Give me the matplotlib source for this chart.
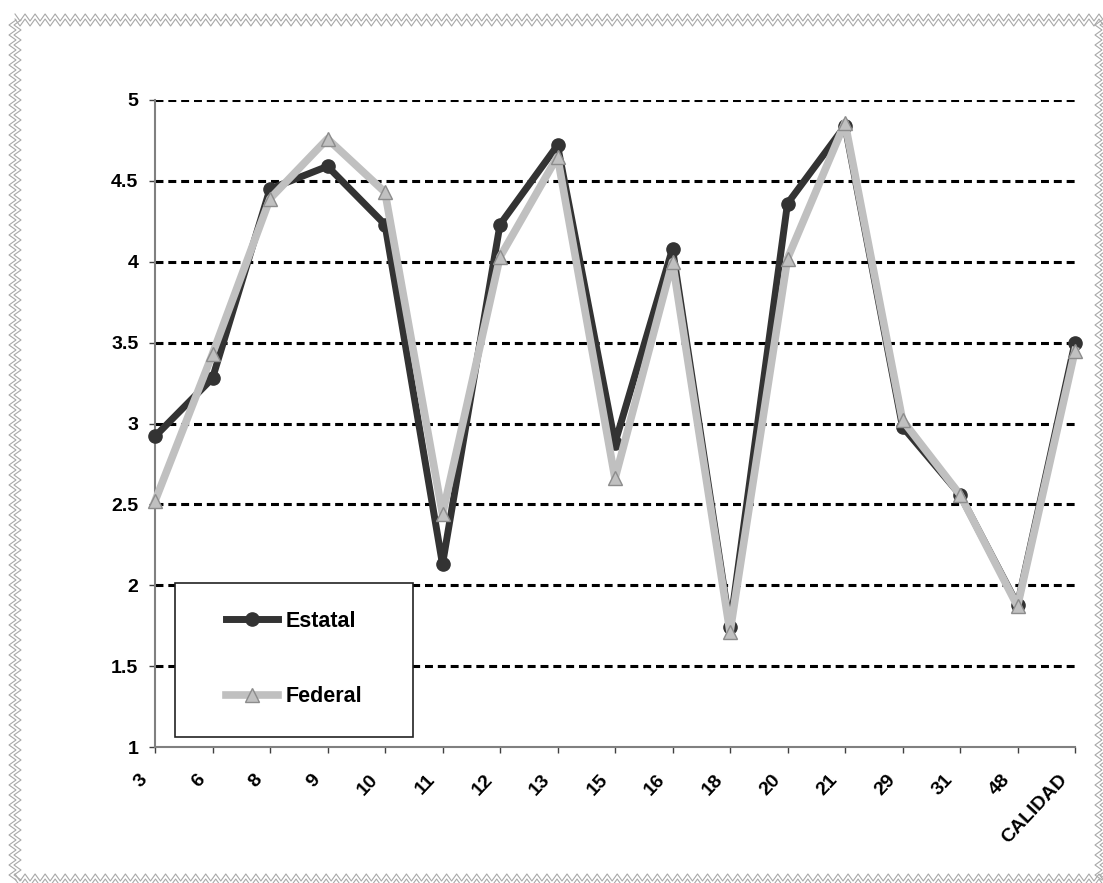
import numpy as np
import matplotlib
matplotlib.use("Agg")
import matplotlib.pyplot as plt
import matplotlib.transforms as mtransforms
from matplotlib.lines import Line2D
from matplotlib.patches import Rectangle

# ---- data ----
categories = ['3', '6', '8', '9', '10', '11', '12', '13', '15', '16', '18',
              '20', '21', '29', '31', '48', 'CALIDAD']
estatal = [2.92, 3.28, 4.45, 4.59, 4.23, 2.13, 4.23, 4.72, 2.88, 4.08, 1.74,
           4.36, 4.84, 2.98, 2.56, 1.88, 3.50]
federal = [2.52, 3.43, 4.39, 4.76, 4.43, 2.44, 4.03, 4.65, 2.66, 4.00, 1.71,
           4.02, 4.86, 3.02, 2.56, 1.87, 3.45]
y_ticks = [1, 1.5, 2, 2.5, 3, 3.5, 4, 4.5, 5]
y_ticklabels = ['1', '1.5', '2', '2.5', '3', '3.5', '4', '4.5', '5']

plt.rcParams['font.family'] = ['Liberation Sans', 'DejaVu Sans']

W, H = 1103, 883
fig = plt.figure(figsize=(W / 100, H / 100), dpi=100)
fig.patch.set_facecolor('white')

ax = fig.add_axes([155 / W, 1 - 747 / H, (1075 - 155) / W, (747 - 100) / H])
x = np.arange(len(categories))

# gridlines
for yv in y_ticks[1:]:
    ax.axhline(yv, color='black', linewidth=2.2, linestyle=(0, (2.6, 1.6)), zorder=1)

ax.plot(x, estatal, color='#333333', linewidth=5, marker='o', markersize=9.5,
        markerfacecolor='#333333', markeredgecolor='#333333', label='Estatal',
        zorder=3, clip_on=False)
ax.plot(x, federal, color='#C0C0C0', linewidth=5.5, marker='^', markersize=10,
        markerfacecolor='#C0C0C0', markeredgecolor='#8c8c8c', markeredgewidth=1,
        label='Federal', zorder=4, clip_on=False)

ax.set_xlim(0, len(categories) - 1)
ax.set_ylim(1, 5)
ax.set_yticks(y_ticks, y_ticklabels, fontsize=14, fontweight='bold')
ax.set_xticks(x, categories, fontsize=14, fontweight='bold', rotation=47,
              ha='right', va='center', rotation_mode='anchor')

for s in ['top', 'right']:
    ax.spines[s].set_visible(False)
for s in ['left', 'bottom']:
    ax.spines[s].set_color('#808080')
    ax.spines[s].set_linewidth(1.5)
ax.tick_params(axis='y', direction='out', length=4, width=1, color='#404040', pad=8)
ax.tick_params(axis='x', direction='out', length=4, width=1, color='#404040', pad=17.5)

offset = mtransforms.ScaledTranslation(-10 / 100, 0, fig.dpi_scale_trans)
for lab in ax.get_xticklabels():
    lab.set_transform(lab.get_transform() + offset)

# legend box
fig.add_artist(Rectangle((175 / W, 1 - 737 / H), 238 / W, 154 / H,
                         transform=fig.transFigure, facecolor='white',
                         edgecolor='#222222', linewidth=1.2, zorder=5))
leg = fig.legend(loc='center', bbox_to_anchor=(294 / W, 1 - 659 / H),
                 frameon=False, prop={'weight': 'bold', 'size': 15.5},
                 handlelength=2.45, handletextpad=0.35, labelspacing=2.55)
leg.set_zorder(6)

# zigzag border
def zig(x0, y0, x1, y1, amp, period, off):
    L = np.hypot(x1 - x0, y1 - y0)
    n = int(L / (period / 2))
    t = np.linspace(0, 1, n + 1)
    px = x0 + (x1 - x0) * t
    py = y0 + (y1 - y0) * t
    dx, dy = (x1 - x0) / L, (y1 - y0) / L
    nx, ny = -dy, dx
    s = np.where(np.arange(n + 1) % 2 == 0, -amp, amp) + off
    return px + nx * s, py + ny * s

edges = [(15, 20, 1104, 20), (15, 20, 15, 880), (15, 880, 1104, 880), (1101, 20, 1101, 880)]
for (a, b, c, d) in edges:
    for off in (-2.5, 2.5):
        px, py = zig(a, b, c, d, 3.5, 10, off)
        fig.add_artist(Line2D(px / W, 1 - py / H, transform=fig.transFigure,
                              color='#a8a8a8', linewidth=0.8))

fig.savefig('out.png', dpi=100)
